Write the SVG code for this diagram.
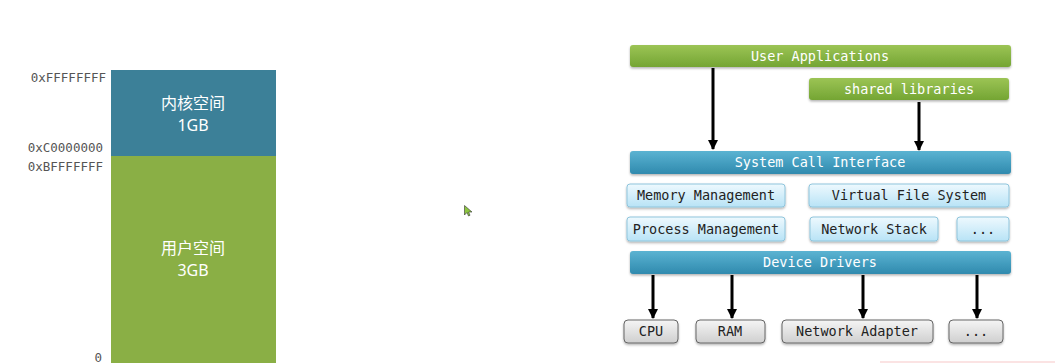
<svg xmlns="http://www.w3.org/2000/svg" width="1055" height="363" viewBox="0 0 1055 363">
  <defs>
    <linearGradient id="gGreen" x1="0" y1="0" x2="0" y2="1">
      <stop offset="0" stop-color="#9cc455"/>
      <stop offset="1" stop-color="#74a533"/>
    </linearGradient>
    <linearGradient id="gBlue" x1="0" y1="0" x2="0" y2="1">
      <stop offset="0" stop-color="#5bb3d2"/>
      <stop offset="1" stop-color="#2f8aae"/>
    </linearGradient>
    <linearGradient id="gLight" x1="0" y1="0" x2="0" y2="1">
      <stop offset="0" stop-color="#eef9fe"/>
      <stop offset="1" stop-color="#b8e3f6"/>
    </linearGradient>
    <linearGradient id="gGray" x1="0" y1="0" x2="0" y2="1">
      <stop offset="0" stop-color="#f5f5f5"/>
      <stop offset="1" stop-color="#cfcfcf"/>
    </linearGradient>
    <filter id="shadow" x="-5%" y="-30%" width="110%" height="170%">
      <feDropShadow dx="0" dy="1.5" stdDeviation="1" flood-color="#000" flood-opacity="0.3"/>
    </filter>
    <marker id="arrow" viewBox="0 0 10 10" refX="9" refY="5" markerWidth="3.4" markerHeight="3.4" orient="auto">
      <path d="M0,0 L10,5 L0,10 z" fill="#000"/>
    </marker>
  </defs>
  <style>
    .mono { font-family: "DejaVu Sans Mono", "Liberation Mono", monospace; }
    .addr { font-size: 12.5px; fill: #555; text-anchor: end; }
    .cn { font-family: "Noto Sans", "Noto Sans CJK SC", sans-serif; font-size: 16px; fill: #fff; text-anchor: middle; }
    .bar-label { font-size: 13.5px; fill: #fff; text-anchor: middle; }
    .box-label { font-size: 13.5px; fill: #222; text-anchor: middle; }
    .green { fill: url(#gGreen); filter: url(#shadow); }
    .blue { fill: url(#gBlue); filter: url(#shadow); }
    .light { fill: url(#gLight); stroke: #8fc5dc; stroke-width: 1; filter: url(#shadow); }
    .gray { fill: url(#gGray); stroke: #666; stroke-width: 1; filter: url(#shadow); }
    .conn { stroke: #000; stroke-width: 3; fill: none; marker-end: url(#arrow); }
  </style>

  <rect width="1055" height="363" fill="#fff"/>

  <!-- 32-bit address space layout -->
  <g id="address-space">
    <rect x="111" y="70" width="165" height="86" fill="#3c8098"/>
    <rect x="111" y="156" width="165" height="207" fill="#8aaf45"/>
    <text class="cn" x="193" y="109">内核空间</text>
    <text class="cn" x="193" y="131">1GB</text>
    <text class="cn" x="193" y="254">用户空间</text>
    <text class="cn" x="193" y="276">3GB</text>
    <g class="mono addr">
      <text x="106" y="82">0xFFFFFFFF</text>
      <text x="103" y="152">0xC0000000</text>
      <text x="103" y="171">0xBFFFFFFF</text>
      <text x="102" y="362">0</text>
    </g>
  </g>

  <!-- Kernel layers -->
  <g id="user-applications">
    <rect class="green" x="630" y="45" width="381" height="22" rx="3"/>
    <text class="mono bar-label" x="820" y="61">User Applications</text>
  </g>
  <g id="shared-libraries">
    <rect class="green" x="809" y="78" width="200" height="22" rx="3"/>
    <text class="mono bar-label" x="909" y="94">shared libraries</text>
  </g>
  <g id="system-call-interface">
    <rect class="blue" x="630" y="151" width="381" height="23" rx="3"/>
    <text class="mono bar-label" x="820" y="167">System Call Interface</text>
  </g>
  <g id="memory-management">
    <rect class="light" x="627" y="184" width="158" height="23" rx="3"/>
    <text class="mono box-label" x="706" y="200">Memory Management</text>
  </g>
  <g id="virtual-file-system">
    <rect class="light" x="809" y="184" width="200" height="23" rx="3"/>
    <text class="mono box-label" x="909" y="200">Virtual File System</text>
  </g>
  <g id="process-management">
    <rect class="light" x="627" y="217" width="158" height="24" rx="3"/>
    <text class="mono box-label" x="706" y="234">Process Management</text>
  </g>
  <g id="network-stack">
    <rect class="light" x="810" y="217" width="128" height="24" rx="3"/>
    <text class="mono box-label" x="874" y="234">Network Stack</text>
  </g>
  <g id="more-subsystems">
    <rect class="light" x="957" y="217" width="52" height="24" rx="3"/>
    <text class="mono box-label" x="983" y="234">...</text>
  </g>
  <g id="device-drivers">
    <rect class="blue" x="630" y="251" width="381" height="23" rx="3"/>
    <text class="mono bar-label" x="820" y="267">Device Drivers</text>
  </g>

  <!-- Hardware -->
  <g id="cpu">
    <rect class="gray" x="624" y="320" width="54" height="23" rx="4"/>
    <text class="mono box-label" x="651" y="336">CPU</text>
  </g>
  <g id="ram">
    <rect class="gray" x="696" y="320" width="69" height="23" rx="4"/>
    <text class="mono box-label" x="730" y="336">RAM</text>
  </g>
  <g id="network-adapter">
    <rect class="gray" x="782" y="320" width="151" height="23" rx="4"/>
    <text class="mono box-label" x="857" y="336">Network Adapter</text>
  </g>
  <g id="more-hardware">
    <rect class="gray" x="949" y="320" width="54" height="23" rx="4"/>
    <text class="mono box-label" x="976" y="336">...</text>
  </g>

  <!-- Connectors -->
  <g id="connectors">
    <line class="conn" x1="713" y1="68" x2="713" y2="149"/>
    <line class="conn" x1="919" y1="102" x2="919" y2="150"/>
    <line class="conn" x1="653" y1="275" x2="653" y2="318"/>
    <line class="conn" x1="732" y1="275" x2="732" y2="318"/>
    <line class="conn" x1="863" y1="275" x2="863" y2="318"/>
    <line class="conn" x1="977" y1="275" x2="977" y2="318"/>
  </g>

  <!-- pointer -->
  <g id="pointer">
    <path d="M464.5,205.5 L464.5,215 L467,212.5 L468.5,216 L470,215.3 L468.6,212 L472,212 Z" fill="#8cc63f" stroke="#333" stroke-width="0.6"/>
  </g>

  <rect x="880" y="361" width="175" height="2" fill="#fbe3e3"/>
</svg>
